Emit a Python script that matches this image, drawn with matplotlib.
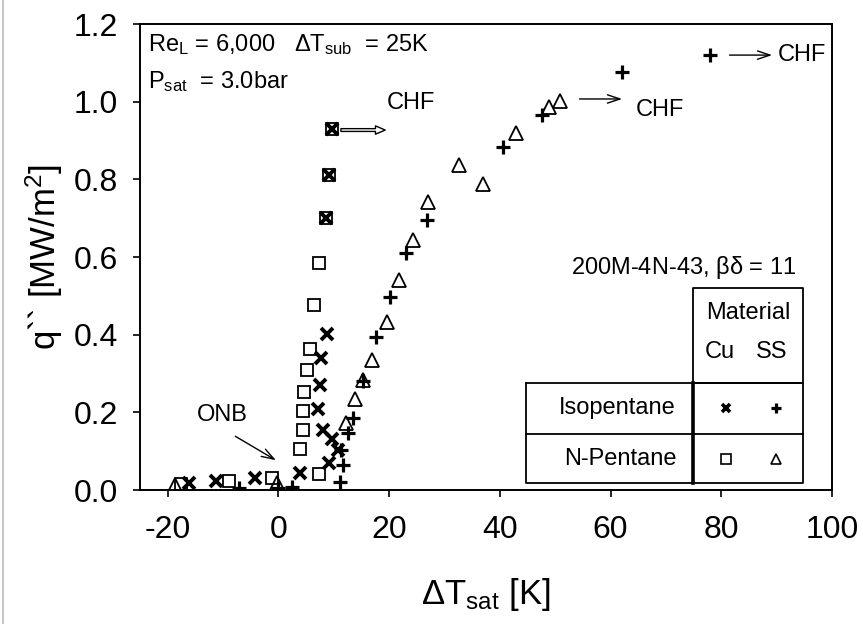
import matplotlib
matplotlib.use("Agg")
import matplotlib.pyplot as plt
from matplotlib.lines import Line2D

plt.rcParams['font.family'] = ['Liberation Sans', 'DejaVu Sans']
plt.rcParams['mathtext.default'] = 'regular'
plt.rcParams['axes.unicode_minus'] = False

# Cu heater, isopentane (x markers)
cu_iso_dt = [-16.1, -11.3, -4.2, 3.9, 9.2, 10.7, 9.6, 8.0, 7.2, 7.5, 7.7, 8.8, 8.6, 9.1, 9.6]
cu_iso_q = [0.017, 0.023, 0.030, 0.043, 0.069, 0.104, 0.131, 0.155, 0.208, 0.270, 0.341, 0.401, 0.700, 0.811, 0.929]

# Cu heater, n-pentane (open squares)
cu_np_dt = [-17.5, -9.0, -1.2, 7.3, 3.9, 4.4, 4.4, 4.7, 5.2, 5.7, 6.5, 7.4, 8.6, 9.1, 9.6]
cu_np_q = [0.015, 0.023, 0.032, 0.041, 0.106, 0.155, 0.204, 0.253, 0.309, 0.362, 0.476, 0.584, 0.700, 0.811, 0.929]

# SS heater, isopentane (+ markers)
ss_iso_dt = [-7.2, 0.0, 2.4, 11.1, 11.7, 11.4, 12.5, 13.4, 15.2, 17.6, 20.1, 23.0, 26.8, 40.5, 47.6, 62.0, 78.0]
ss_iso_q = [0.004, 0.004, 0.008, 0.020, 0.064, 0.103, 0.146, 0.185, 0.280, 0.395, 0.496, 0.610, 0.695, 0.883, 0.966, 1.077, 1.120]

# SS heater, n-pentane (open triangles)
ss_np_dt = [-18.7, -0.3, 12.2, 13.9, 15.3, 17.0, 19.6, 21.8, 24.4, 27.1, 32.7, 36.9, 42.9, 48.9, 50.9]
ss_np_q = [0.013, 0.017, 0.173, 0.235, 0.283, 0.335, 0.433, 0.541, 0.644, 0.742, 0.837, 0.788, 0.919, 0.986, 1.003]

xticks = [-20, 0, 20, 40, 60, 80, 100]
yticks = [0.0, 0.2, 0.4, 0.6, 0.8, 1.0, 1.2]

fig = plt.figure(figsize=(8.63, 6.24), dpi=100)
ax = fig.add_axes([0.1622, 0.2147, 0.8018, 0.7468])

ax.plot(cu_np_dt, cu_np_q, 's', ms=9, mfc='none', mec='black', mew=1.3, ls='none')
ax.plot(ss_np_dt, ss_np_q, '^', ms=9.5, mfc='none', mec='black', mew=1.3, ls='none')
ax.plot(cu_iso_dt, cu_iso_q, 'x', ms=8.5, mec='black', mew=2.8, ls='none')
ax.plot(ss_iso_dt, ss_iso_q, '+', ms=9.5, mec='black', mew=2.3, ls='none')

ax.set_xlim(-25, 100)
ax.set_ylim(0, 1.2)
ax.set_xticks(xticks)
ax.set_yticks(yticks)
ax.set_yticklabels(['%.1f' % v for v in yticks])
ax.tick_params(direction='out', length=5, width=1.2, labelsize=23, pad=11)
ax.tick_params(axis='x', pad=13)
for s in ax.spines.values():
    s.set_linewidth(1.4)

ax.set_xlabel(r'$\Delta$T$_{sat}$ [K]', fontsize=25, labelpad=22)
ax.set_ylabel(r'q`` [MW/m$^2$]', fontsize=25, labelpad=6)

# text annotations
ax.text(0.012, 0.955, r'Re$_L$ = 6,000   $\Delta$T$_{sub}$  = 25K', transform=ax.transAxes,
        fontsize=17, va='center', ha='left')
ax.text(0.012, 0.876, r'P$_{sat}$  = 3.0bar', transform=ax.transAxes,
        fontsize=17, va='center', ha='left')
ax.text(0.949, 0.4785, r'200M-4N-43, $\beta\delta$ = 11', transform=ax.transAxes,
        fontsize=17, va='center', ha='right')

# ONB and CHF markers
ax.annotate('', xy=(0.0, 0.073), xytext=(-8.2, 0.142),
            arrowprops=dict(arrowstyle='->,head_length=0.9,head_width=0.3', lw=1, color='black'))
ax.text(-10.2, 0.194, 'ONB', fontsize=17, ha='center', va='center')

ax.annotate('', xy=(19.8, 0.927), xytext=(10.8, 0.927),
            arrowprops=dict(arrowstyle='simple,head_length=0.7,head_width=0.6,tail_width=0.2',
                            fc='white', ec='black', lw=1))
ax.text(24.0, 0.997, 'CHF', fontsize=17, ha='center', va='center')

ax.annotate('', xy=(62.6, 1.007), xytext=(53.9, 1.007),
            arrowprops=dict(arrowstyle='->,head_length=0.9,head_width=0.3', lw=1, color='black'))
ax.text(68.9, 0.979, 'CHF', fontsize=17, ha='center', va='center')

ax.annotate('', xy=(89.7, 1.12), xytext=(81.0, 1.12),
            arrowprops=dict(arrowstyle='->,head_length=0.9,head_width=0.3', lw=1, color='black'))
ax.text(90.2, 1.12, 'CHF', fontsize=17, ha='left', va='center')

# legend table drawn in axes fraction
tl, tm, tr = 0.558, 0.799, 0.958
ttop, trow1, trow2, tbot = 0.4335, 0.2296, 0.1202, 0.015
tbl = dict(color='black', lw=1.3, transform=ax.transAxes, clip_on=False)
ax.add_line(Line2D([tm, tm, tr, tr, tm], [trow1, ttop, ttop, trow1, trow1], **tbl))
ax.add_line(Line2D([tl, tr, tr, tl, tl], [trow1, trow1, tbot, tbot, trow1], **tbl))
ax.add_line(Line2D([tl, tr], [trow2, trow2], **tbl))
ax.add_line(Line2D([tm, tm], [trow1, tbot], color='black', lw=2.6, transform=ax.transAxes))

ax.text(0.879, 0.380, 'Material', transform=ax.transAxes, fontsize=17, ha='center', va='center')
ax.text(0.838, 0.296, 'Cu', transform=ax.transAxes, fontsize=17, ha='center', va='center')
ax.text(0.913, 0.296, 'SS', transform=ax.transAxes, fontsize=17, ha='center', va='center')
ax.text(0.774, 0.176, 'Isopentane', transform=ax.transAxes, fontsize=17, ha='right', va='center')
ax.text(0.776, 0.0665, 'N-Pentane', transform=ax.transAxes, fontsize=17, ha='right', va='center')

ax.plot([0.847], [0.176], 'x', ms=6, mec='black', mew=2.6, transform=ax.transAxes)
ax.plot([0.919], [0.176], '+', ms=7, mec='black', mew=2.3, transform=ax.transAxes)
ax.plot([0.847], [0.0665], 's', ms=7, mfc='none', mec='black', mew=1.2, transform=ax.transAxes)
ax.plot([0.919], [0.0665], '^', ms=7, mfc='none', mec='black', mew=1.2, transform=ax.transAxes)

# thin grey frame line at the left edge of the picture
fig.add_artist(Line2D([0.004, 0.004], [0, 1], color='#c8c8c8', lw=1.5, transform=fig.transFigure))

fig.savefig('out.png', dpi=100)
